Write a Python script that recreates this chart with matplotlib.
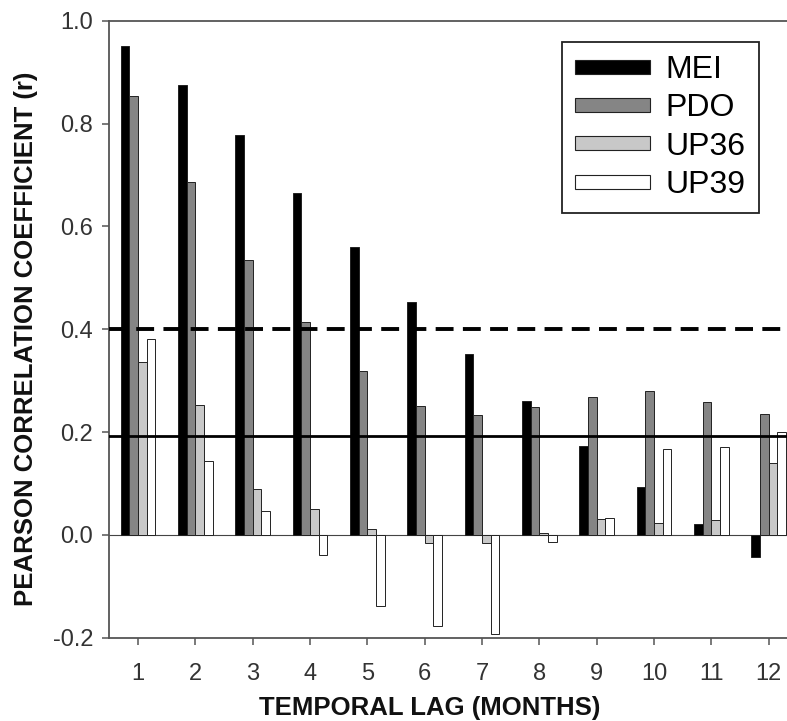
import matplotlib
matplotlib.use('Agg')
import matplotlib.pyplot as plt
from matplotlib import font_manager
import numpy as np
from matplotlib.patches import Patch

plt.rcParams['font.family'] = ['Liberation Sans', 'DejaVu Sans']

lags = [1, 2, 3, 4, 5, 6, 7, 8, 9, 10, 11, 12]
mei = [0.951, 0.874, 0.778, 0.665, 0.559, 0.452, 0.351, 0.261, 0.172, 0.094, 0.021, -0.044]
pdo = [0.854, 0.687, 0.535, 0.414, 0.319, 0.251, 0.233, 0.249, 0.269, 0.279, 0.258, 0.236]
up36 = [0.337, 0.253, 0.089, 0.050, 0.011, -0.015, -0.015, 0.003, 0.030, 0.024, 0.029, 0.139]
up39 = [0.380, 0.144, 0.046, -0.039, -0.138, -0.177, -0.193, -0.014, 0.033, 0.167, 0.170, 0.201]
series_names = ['MEI', 'PDO', 'UP36', 'UP39']
series_colors = ['#000000', '#858585', '#c8c8c8', '#ffffff']
sig_95 = 0.193
sig_99 = 0.40

# axis titles in the original are set in a narrow bold face
names = {f.name for f in font_manager.fontManager.ttflist}
if 'Liberation Sans Narrow' in names:
    label_font = dict(family='Liberation Sans Narrow', fontsize=22)
else:
    label_font = dict(family='Liberation Sans', fontsize=18.5)

fig = plt.figure(figsize=(7.87, 7.21), dpi=100)
ax = fig.add_axes([109.3 / 787, 83.3 / 721, 688 / 787, 617 / 721])

x = np.array(lags)
width = 0.152
offsets = [-1.5, -0.5, 0.5, 1.5]
for vals, name, col, off in zip([mei, pdo, up36, up39], series_names, series_colors, offsets):
    ax.bar(x + off * width, vals, width, color=col, edgecolor='#222222',
           linewidth=0.7, label=name, zorder=3)

ax.axhline(0, color='#444444', linewidth=0.8, zorder=2)
ax.axhline(sig_95, color='black', linewidth=2.0, zorder=4)
ax.axhline(sig_99, color='black', linewidth=2.8, dashes=(4.6, 2.4), zorder=4)

ax.set_xlim(0.5, 12.5)
ax.set_ylim(-0.2, 1.0)
ax.set_xticks(lags)
ax.set_yticks([-0.2, 0.0, 0.2, 0.4, 0.6, 0.8, 1.0])
ax.set_yticklabels(['-0.2', '0.0', '0.2', '0.4', '0.6', '0.8', '1.0'])
ax.tick_params(axis='both', direction='out', length=5, width=1.1,
               color='#555555', labelsize=17, labelcolor='#333333')
ax.tick_params(axis='x', pad=13)
ax.tick_params(axis='y', pad=6.5)

for s in ['left', 'bottom', 'top']:
    ax.spines[s].set_color('#555555')
    ax.spines[s].set_linewidth(1.3)
ax.spines['right'].set_visible(False)

ax.set_xlabel('TEMPORAL LAG (MONTHS)', fontweight='bold', color='#111111', **label_font)
ax.set_ylabel('PEARSON CORRELATION COEFFICIENT (r)', fontweight='bold', color='#111111', **label_font)
ax.xaxis.set_label_coords(0.465, -0.095)
ax.yaxis.set_label_coords(-0.104, 0.485)

handles = [Patch(facecolor=c, edgecolor='#222222', linewidth=0.8) for c in series_colors]
leg = fig.legend(handles, series_names, loc='upper left',
                 bbox_to_anchor=(561.7 / 787, (721 - 41.7) / 721), borderaxespad=0,
                 fontsize=23, handlelength=2.35, handleheight=0.3, handletextpad=0.47,
                 labelspacing=0.26, borderpad=0.42, fancybox=False, framealpha=1,
                 edgecolor='#222222')
leg.get_frame().set_linewidth(1.3)

fig.savefig('out.png', dpi=100)
